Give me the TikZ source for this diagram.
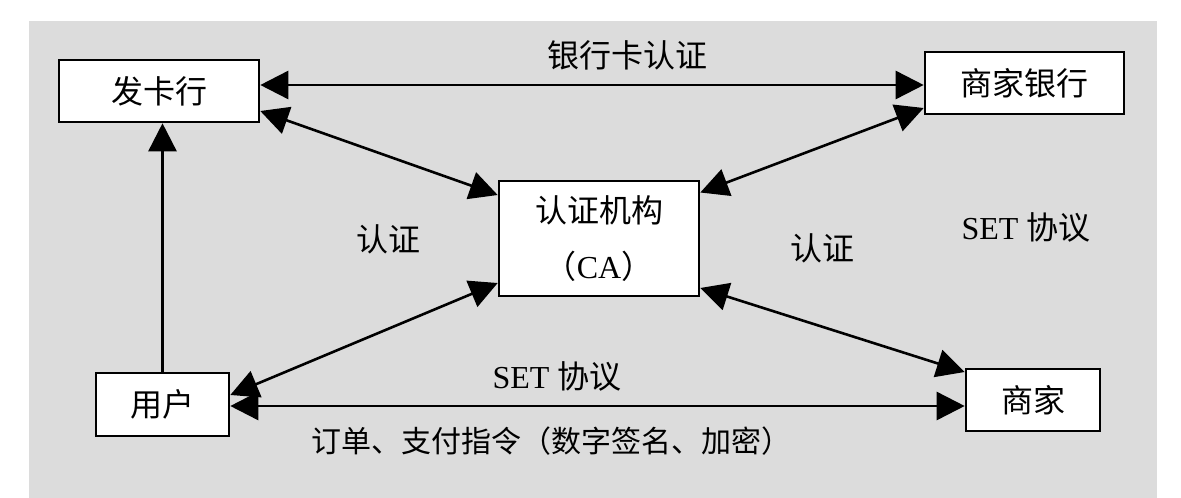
\documentclass[tikz,border=0pt]{standalone}
\usepackage{fontspec}
\setmainfont{Liberation Serif}
\newfontfamily\cjk{Noto Sans CJK SC}
\usepackage{tikz}
\usetikzlibrary{positioning,arrows.meta}
\definecolor{panel}{HTML}{DCDCDC}

\begin{document}
\begin{tikzpicture}[
x=1pt, y=-1pt,
box/.style={draw=black, line width=2.6pt, fill=white, align=center, inner sep=0pt, font=\cjk\fontsize{32}{56}\selectfont},
lbl/.style={font=\cjk\fontsize{32}{38}\selectfont, inner sep=0pt},
arrow/.style={{Triangle[length=28pt,width=28pt]}-{Triangle[length=28pt,width=28pt]}, line width=2.6pt},
uparrow/.style={-{Triangle[length=28pt,width=28pt]}, line width=2.6pt}
]
\useasboundingbox (0,0) rectangle (1181,498);
\fill[panel] (29,21) rectangle (1157,498);
% boxes
\node[box, minimum width=200pt, minimum height=62pt] (issuer) at (159,91) {发卡行};
\node[box, minimum width=199pt, minimum height=62pt] (mbank) at (1024.5,83) {商家银行};
\node[box, minimum width=200pt, minimum height=115pt] (ca) at (599,238.5) {认证机构\\{（}\fontspec{Liberation Serif}CA{\cjk ）}};
\node[box, minimum width=133pt, minimum height=63pt] (user) at (162.5,404.5) {用户};
\node[box, minimum width=134pt, minimum height=62pt] (shop) at (1033,400) {商家};
% labels
\node[lbl] (cardauth) at (627,55) {银行卡认证};
\node[lbl] (authl) at (388,239) {认证};
\node[lbl] (authr) at (822,248) {认证};
\node[lbl] (setr) at (1026,227) {\fontspec{Liberation Serif}SET {\cjk 协议}};
\node[lbl] (setm) at (557,376) {\fontspec{Liberation Serif}SET {\cjk 协议}};
\node[lbl, font=\cjk\fontsize{30}{36}\selectfont] (order) at (551,441) {订单、支付指令（数字签名、加密）};
% connectors
\draw[arrow] ([yshift=6pt]issuer.east) -- ([yshift=-2pt]mbank.west);
\draw[arrow] ([yshift=-20pt]issuer.east) -- ([yshift=43.5pt]ca.west);
\draw[arrow] ([yshift=-25pt]mbank.west) -- ([yshift=46pt]ca.east);
\draw[arrow] ([yshift=9.5pt]user.east) -- ([yshift=-44.5pt]ca.west);
\draw[arrow] ([yshift=-49.5pt]ca.east) -- ([yshift=28pt]shop.west);
\draw[arrow] ([yshift=-1.5pt]user.east) -- ([yshift=-6pt]shop.west);
\draw[uparrow] (user.north) -- (user.north |- issuer.south);
\end{tikzpicture}
\end{document}
